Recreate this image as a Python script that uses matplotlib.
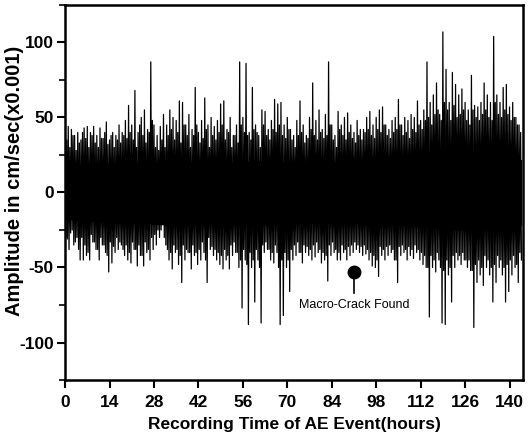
import matplotlib
matplotlib.use('Agg')
import matplotlib.pyplot as plt
import numpy as np

plt.rcParams['font.family'] = ['Liberation Sans', 'DejaVu Sans']
plt.rcParams['axes.unicode_minus'] = False

# hourly peak amplitudes (cm/sec x0.001)
upper = [30, 44, 42, 38, 40, 35, 43, 44, 40, 44,
         38, 43, 36, 47, 35, 40, 38, 45, 40, 48,
         58, 45, 68, 40, 50, 55, 42, 87, 45, 38,
         44, 52, 45, 55, 50, 48, 61, 60, 45, 52,
         42, 70, 40, 48, 63, 45, 50, 44, 48, 59,
         61, 42, 50, 38, 45, 87, 50, 86, 40, 70,
         45, 38, 55, 54, 42, 48, 62, 59, 60, 45,
         50, 42, 38, 48, 61, 45, 38, 50, 73, 48,
         55, 42, 52, 87, 45, 38, 54, 45, 50, 53,
         45, 40, 48, 42, 42, 50, 54, 45, 50, 55,
         57, 45, 42, 48, 50, 62, 45, 50, 48, 52,
         50, 61, 48, 55, 87, 60, 65, 73, 52, 107,
         82, 60, 80, 72, 65, 69, 60, 55, 78, 58,
         57, 60, 73, 65, 60, 104, 65, 60, 70, 72,
         57, 60, 50, 45]
lower = [-31, -27, -35, -30, -45, -45, -42, -45, -33, -38,
         -45, -35, -40, -53, -47, -40, -38, -35, -42, -45,
         -47, -38, -49, -42, -49, -40, -45, -38, -35, -30,
         -20, -35, -45, -51, -40, -48, -60, -45, -40, -51,
         -42, -48, -45, -40, -60, -38, -42, -45, -48, -51,
         -45, -51, -42, -40, -50, -77, -45, -88, -50, -73,
         -45, -87, -40, -38, -45, -47, -40, -88, -82, -50,
         -66, -45, -42, -40, -47, -40, -42, -45, -43, -40,
         -47, -45, -59, -42, -40, -45, -45, -40, -45, -42,
         -40, -38, -40, -42, -41, -45, -49, -50, -56, -42,
         -45, -42, -40, -45, -60, -42, -40, -45, -42, -44,
         -40, -45, -48, -50, -83, -50, -53, -45, -87, -88,
         -55, -73, -50, -45, -48, -45, -50, -52, -90, -60,
         -55, -62, -50, -55, -73, -60, -50, -55, -73, -66,
         -55, -50, -60, -45]
# secondary (smaller) oscillations within each hour
upper2 = [35, 30, 38, 28, 33, 40, 36, 30, 38, 33,
          30, 36, 40, 32, 38, 30, 35, 33, 38, 36,
          40, 35, 30, 45, 38, 33, 40, 48, 30, 28,
          35, 30, 38, 42, 35, 40, 33, 45, 38, 30,
          38, 45, 33, 36, 42, 30, 38, 35, 40, 45,
          35, 40, 30, 38, 33, 45, 40, 38, 35, 42,
          40, 30, 45, 38, 35, 42, 40, 45, 38, 36,
          42, 35, 30, 38, 40, 33, 36, 42, 38, 35,
          40, 36, 38, 45, 35, 30, 42, 38, 35, 40,
          36, 33, 38, 35, 40, 42, 38, 36, 42, 40,
          45, 38, 36, 40, 42, 45, 38, 40, 36, 42,
          40, 45, 42, 48, 50, 45, 52, 55, 48, 60,
          55, 48, 58, 50, 52, 55, 48, 45, 55, 50,
          48, 52, 55, 50, 48, 60, 52, 50, 55, 52,
          48, 50, 45, 40]
lower2 = [-30, -38, -25, -33, -38, -30, -35, -40, -28, -33,
          -38, -30, -35, -42, -33, -36, -30, -33, -38, -35,
          -40, -33, -38, -35, -42, -33, -38, -30, -28, -25,
          -25, -30, -38, -40, -35, -38, -42, -35, -38, -40,
          -35, -40, -38, -33, -45, -30, -36, -38, -40, -42,
          -38, -42, -35, -33, -40, -45, -38, -48, -40, -45,
          -38, -50, -35, -33, -38, -40, -35, -50, -45, -40,
          -45, -38, -35, -33, -40, -35, -36, -38, -35, -33,
          -38, -40, -42, -35, -33, -38, -40, -35, -38, -36,
          -35, -33, -35, -36, -35, -38, -40, -42, -45, -36,
          -38, -36, -35, -38, -45, -36, -35, -38, -36, -38,
          -35, -38, -40, -42, -50, -42, -45, -40, -50, -52,
          -45, -50, -42, -40, -42, -40, -45, -45, -52, -48,
          -45, -50, -42, -45, -50, -48, -42, -45, -50, -48,
          -45, -42, -48, -40]

# dense core band, every 12 hours
core_t = [0, 12, 24, 36, 48, 60, 72, 84, 96, 108, 120, 132, 143.8]
core_hi = [18, 20, 20, 21, 20, 21, 20, 20, 21, 22, 24, 24, 22]
core_lo = [-18, -20, -21, -22, -21, -22, -21, -20, -21, -22, -25, -25, -22]

crack_t = 91
crack_amp = -53

n = len(upper)
hrs = np.arange(n)
t = np.empty(4 * n)
y = np.empty(4 * n)
t[0::4] = hrs
t[1::4] = hrs + 0.25
t[2::4] = hrs + 0.5
t[3::4] = hrs + 0.75
y[0::4] = upper
y[1::4] = lower2
y[2::4] = upper2
y[3::4] = lower

fig = plt.figure(figsize=(5.29, 4.45), dpi=100)
ax = fig.add_axes([0.123, 0.146, 0.866, 0.843])

ax.fill_between(core_t, core_lo, core_hi, color='black', lw=0)
ax.plot(t, y, color='black', lw=0.9)

ax.plot([crack_t, crack_t], [crack_amp, -67], color='black', lw=1.2)
ax.plot(crack_t, crack_amp, 'o', color='black', ms=9)
ax.text(crack_t, -75, 'Macro-Crack Found', ha='center', va='center', fontsize=9)

ax.set_xlim(0, 144.3)
ax.set_ylim(-123, 125)
ax.set_xticks(range(0, 141, 14))
ax.set_yticks([-100, -50, 0, 50, 100])
ax.set_yticks([-125, -75, -25, 25, 75, 125], minor=True)
ax.tick_params(labelsize=12.5, width=1.5, length=6, direction='out', pad=2)
ax.tick_params(axis='x', pad=5)
ax.tick_params(which='minor', width=1.2, length=4)
for lab in ax.get_xticklabels() + ax.get_yticklabels():
    lab.set_fontweight('bold')
for s in ax.spines.values():
    s.set_linewidth(1.8)

ax.set_xlabel('Recording Time of AE Event(hours)', fontsize=12.5, fontweight='bold', labelpad=5)
ax.set_ylabel('Amplitude in cm/sec(x0.001)', fontsize=14.5, fontweight='bold')
ax.yaxis.set_label_coords(-0.09, 0.53)

fig.savefig('out.png', dpi=100)
